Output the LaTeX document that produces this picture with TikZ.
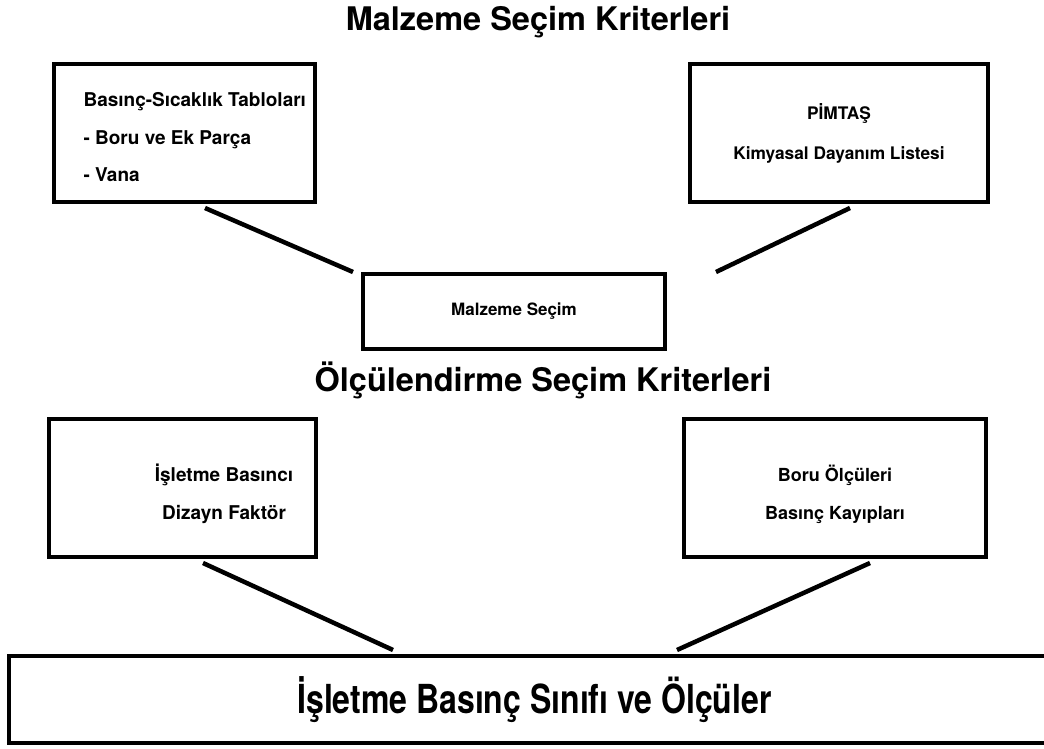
\documentclass[tikz,border=0pt]{standalone}
\usepackage{fontspec}
\setmainfont{TeX Gyre Heros}
\usetikzlibrary{calc}
\begin{document}
\begin{tikzpicture}[x=1pt,y=-1pt,
  box/.style={draw=black,line width=4pt,fill=white,rectangle,inner sep=0pt},
  boxtext/.style={font=\bfseries\fontsize{17.3}{40}\selectfont,align=center},
  lowtext/.style={font=\bfseries\fontsize{18}{38}\selectfont,align=center},
  link/.style={line width=4.5pt,black},
  heading/.style={font=\bfseries\fontsize{32.5}{38}\selectfont}]
\useasboundingbox (0,0) rectangle (1044,749);
% headings
\node[heading] (h1) at (538,22) {Malzeme Seçim Kriterleri};
\node[heading] (h2) at (543,380) {Ölçülendirme Seçim Kriterleri};
% boxes
\node[box,minimum width=261pt,minimum height=138pt] (tl) at (184.5,133) {};
\node[font=\bfseries\fontsize{19}{37.5}\selectfont,align=left,anchor=west] (tltext) at (80,137.5)
  {Basınç-Sıcaklık Tabloları\\- Boru ve Ek Parça\\- Vana};
\node[box,boxtext,minimum width=298pt,minimum height=138pt] (tr) at (839,133)
  {PİMTAŞ\\Kimyasal Dayanım Listesi};
\node[box,font=\bfseries\fontsize{17}{40}\selectfont,minimum width=302pt,minimum height=75pt] (ms) at (514,311.5)
  {Malzeme Seçim};
\node[box,minimum width=267pt,minimum height=138pt] (bl) at (182.5,488) {};
\node[lowtext,font=\bfseries\fontsize{19}{38}\selectfont] (bltext) at (224,494) {İşletme Basıncı\\Dizayn Faktör};
\node[box,minimum width=302pt,minimum height=138pt] (br) at (835,488) {};
\node[lowtext] (brtext) at (835,494) {Boru Ölçüleri\\Basınç Kayıpları};
\node[box,minimum width=1051pt,minimum height=87pt] (big) at (534.5,699.5)
  {\scalebox{0.8}[1]{\bfseries\fontsize{40}{48}\selectfont İşletme Basınç Sınıfı ve Ölçüler}};
% connector end points
\coordinate (tlS) at ($(tl.south)+(20.5,4)$);
\coordinate (trS) at ($(tr.south)+(11,4)$);
\coordinate (msL) at ($(ms.north west)+(-8,0)$);
\coordinate (msR) at ($(ms.north east)+(49,0)$);
\coordinate (blS) at ($(bl.south)+(20.5,4)$);
\coordinate (brS) at ($(br.south)+(35,4)$);
\coordinate (bigL) at ($(big.north)+(-141.5,-4)$);
\coordinate (bigR) at ($(big.north)+(142.5,-4)$);
% connectors
\draw[link] (tlS) -- (msL);
\draw[link] (trS) -- (msR);
\draw[link] (blS) -- (bigL);
\draw[link] (brS) -- (bigR);
\end{tikzpicture}
\end{document}
